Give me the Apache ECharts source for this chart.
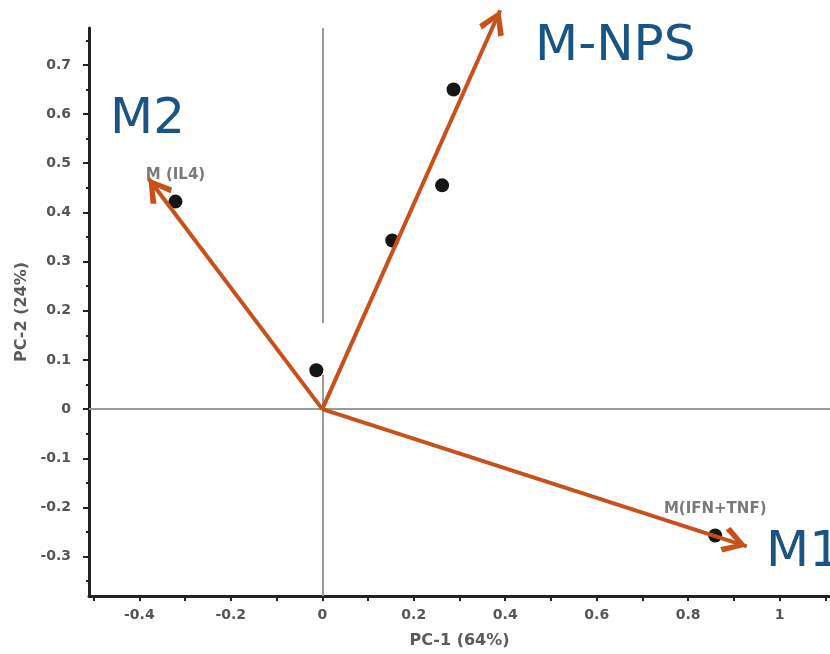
<!DOCTYPE html>
<html>
<head>
<meta charset="utf-8">
<script src="https://cdn.jsdelivr.net/npm/echarts@6/dist/echarts.min.js"></script>
<style>
  html, body { margin: 0; padding: 0; background: #fff; }
  #chart { width: 830px; height: 654px; }
</style>
</head>
<body>
<div id="chart"></div>
<script>
// scores of the samples
var pointX = [-0.321, -0.013, 0.153, 0.262, 0.287, 0.859];
var pointY = [0.422, 0.079, 0.343, 0.455, 0.650, -0.257];
var pointNames = ["M (IL4)", "", "", "", "", "M(IFN+TNF)"];

// arrows drawn from the origin
var arrowNames = ["M2", "M-NPS", "M1"];
var arrowX = [-0.380, 0.389, 0.928];
var arrowY = [0.469, 0.811, -0.279];

// ticks and labels
var xLabels = [-0.4, -0.2, 0, 0.2, 0.4, 0.6, 0.8, 1];
var xTicks = [-0.5, -0.4, -0.3, -0.2, -0.1, 0, 0.1, 0.2, 0.3, 0.4, 0.5, 0.6, 0.7, 0.8, 0.9, 1, 1.1];
var yLabels = [-0.3, -0.2, -0.1, 0, 0.1, 0.2, 0.3, 0.4, 0.5, 0.6, 0.7];
var yMinorTicks = [-0.35, -0.25, -0.15, -0.05, 0.05, 0.15, 0.25, 0.35, 0.45, 0.55, 0.65, 0.75];

var arrowColor = "#c8501a";
var labelBlue = "#1a5483";
var font = "DejaVu Sans";

var myChart = echarts.init(document.getElementById("chart"));

var points = [];
for (var i = 0; i < pointX.length; i++) {
  points.push({
    value: [pointX[i], pointY[i]],
    label: { show: pointNames[i] !== "", formatter: pointNames[i] }
  });
}

var arrows = [];
for (var k = 0; k < arrowX.length; k++) {
  arrows.push({ name: arrowNames[k], coords: [[0, 0], [arrowX[k], arrowY[k]]] });
}

// open arrow head, tip on top; the empty move at the top keeps the tip in the middle
// of the symbol box so it lands on the line end
var chevron = "path://M120,-220 L120,-220 Z M120,0 L240,190 L198,222 L120,84 L42,222 L0,190 Z";

var option = {
  backgroundColor: "#fff",
  animation: false,
  grid: { left: 89, right: 0, top: 28, bottom: 58 },
  xAxis: {
    type: "value",
    min: -0.51,
    max: 1.11,
    name: "PC-1 (64%)",
    nameLocation: "middle",
    nameGap: 37,
    nameTextStyle: { fontFamily: font, fontSize: 16, fontWeight: "bold", color: "#5a5a5a" },
    axisLine: { onZero: false, lineStyle: { color: "#222", width: 3 } },
    axisTick: { show: true, length: 5, lineStyle: { color: "#222", width: 2 }, customValues: xTicks },
    axisLabel: { fontFamily: font, fontSize: 14, fontWeight: "bold", color: "#555", margin: 12, customValues: xLabels },
    splitLine: { show: false }
  },
  yAxis: [
    {
      type: "value",
      min: -0.38,
      max: 0.775,
      name: "PC-2 (24%)",
      nameLocation: "middle",
      nameGap: 58,
      nameTextStyle: { fontFamily: font, fontSize: 16, fontWeight: "bold", color: "#5a5a5a" },
      axisLine: { onZero: false, lineStyle: { color: "#222", width: 3 } },
      axisTick: { show: true, length: 6, lineStyle: { color: "#222", width: 2 }, customValues: yLabels },
      axisLabel: { fontFamily: font, fontSize: 14, fontWeight: "bold", color: "#555", margin: 18, customValues: yLabels },
      splitLine: { show: false }
    },
    {
      // minor ticks only
      type: "value",
      min: -0.38,
      max: 0.775,
      position: "left",
      axisLine: { show: false, onZero: false },
      axisTick: { show: true, length: 3, lineStyle: { color: "#222", width: 2 }, customValues: yMinorTicks },
      axisLabel: { show: false },
      splitLine: { show: false }
    }
  ],
  series: [
    {
      type: "scatter",
      data: points,
      symbolSize: 14,
      itemStyle: { color: "#151515", opacity: 1 },
      z: 2,
      label: {
        position: "top",
        distance: 12,
        fontFamily: font,
        fontSize: 15,
        fontWeight: "bold",
        color: "#7a7a7a"
      },
      markLine: {
        silent: true,
        symbol: "none",
        z: 1,
        label: { show: false },
        lineStyle: { color: "#9a9a9a", width: 2, type: "solid" },
        data: [
          { yAxis: 0 },
          [{ coord: [0, 0.775] }, { coord: [0, 0.175] }],
          [{ coord: [0, 0.07] }, { coord: [0, -0.38] }]
        ]
      }
    },
    {
      type: "lines",
      coordinateSystem: "cartesian2d",
      clip: false,
      z: 3,
      symbol: ["none", chevron],
      symbolSize: [0, [27, 50]],
      lineStyle: { color: arrowColor, width: 4, opacity: 1 },
      data: arrows
    }
  ],
  graphic: [
    { type: "text", left: 110, top: 95, style: { text: arrowNames[0], fontFamily: font, fontSize: 50, fill: labelBlue } },
    { type: "text", left: 535, top: 22, style: { text: arrowNames[1], fontFamily: font, fontSize: 50, fill: labelBlue } },
    { type: "text", left: 766, top: 528, style: { text: arrowNames[2], fontFamily: font, fontSize: 50, fill: labelBlue } }
  ]
};

myChart.setOption(option);
</script>
</body>
</html>
